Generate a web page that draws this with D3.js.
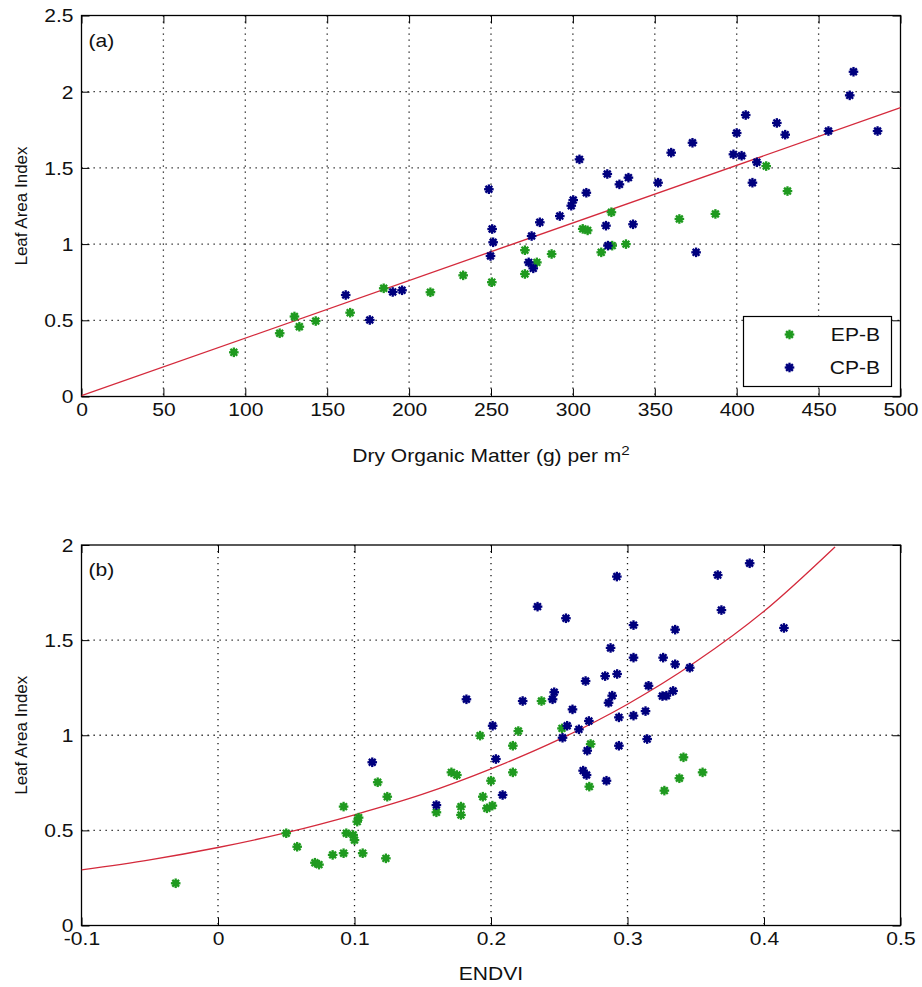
<!DOCTYPE html>
<html>
<head>
<meta charset="utf-8">
<script src="https://cdn.jsdelivr.net/npm/d3@7"></script>
<style>
  html, body { margin: 0; padding: 0; background: #fff; }
  svg { display: block; font-family: "Liberation Sans", Arial, sans-serif; }
</style>
</head>
<body>
<svg id="fig" width="922" height="987"></svg>
<script>
// ---- Panel (a): LAI vs dry organic matter ----
const topEPB = [
  [93,0.29],[121,0.415],[130,0.525],[133,0.458],[143,0.495],[164,0.55],[184.5,0.71],
  [213,0.684],[233,0.795],[250.5,0.75],[270.7,0.96],[270.7,0.804],[278,0.88],[287,0.935],
  [306,1.1],[309,1.09],[323.5,1.209],[317.3,0.946],[324,0.99],[332.4,1.0],[365,1.165],
  [387,1.198],[418,1.512],[431,1.348]
];
const topCPB = [
  [161.3,0.666],[176,0.502],[190,0.686],[195.7,0.697],[248.7,1.36],[250.7,1.099],[251.3,1.012],
  [249.7,0.922],[274.8,1.053],[279.8,1.143],[273,0.88],[275.8,0.841],[292,1.184],[299,1.252],
  [300.2,1.289],[304,1.556],[308.2,1.337],[321,1.46],[320.2,1.121],[321.4,0.99],[328.4,1.392],
  [333.9,1.436],[336.7,1.13],[352,1.403],[360,1.6],[373,1.665],[375.2,0.946],[400,1.729],
  [398,1.589],[403,1.58],[405.5,1.847],[409.6,1.403],[412.3,1.537],[424.5,1.795],[429.6,1.718],
  [456,1.742],[469,1.976],[471.3,2.131],[486,1.742]
];
const topFitX = [0, 500];
const topFitY = [0.005, 1.895];
const topXTicks = [0,50,100,150,200,250,300,350,400,450,500];
const topYTicks = [0,0.5,1,1.5,2,2.5];

// ---- Panel (b): LAI vs ENDVI ----
const botEPB = [
  [-0.031,0.222],[0.05,0.485],[0.058,0.414],[0.071,0.33],[0.074,0.32],[0.084,0.371],[0.092,0.38],
  [0.092,0.625],[0.094,0.485],[0.099,0.476],[0.1,0.449],[0.102,0.546],[0.103,0.567],[0.106,0.38],
  [0.117,0.753],[0.124,0.677],[0.123,0.353],[0.16,0.595],[0.171,0.805],[0.175,0.791],[0.178,0.625],
  [0.178,0.581],[0.192,0.998],[0.194,0.677],[0.197,0.616],[0.201,0.63],[0.2,0.761],[0.216,0.805],
  [0.216,0.945],[0.22,1.022],[0.237,1.18],[0.252,1.036],[0.273,0.954],[0.272,0.73],[0.327,0.709],
  [0.338,0.774],[0.341,0.884],[0.355,0.805]
];
const botCPB = [
  [0.113,0.858],[0.16,0.633],[0.182,1.189],[0.2085,0.686],[0.2036,0.875],[0.2012,1.05],[0.2232,1.18],
  [0.2341,1.676],[0.2451,1.189],[0.2463,1.226],[0.2549,1.615],[0.2524,0.987],[0.2558,1.05],
  [0.2597,1.136],[0.2644,1.031],[0.2693,1.285],[0.2717,1.075],[0.2705,0.919],[0.2675,0.814],
  [0.27,0.791],[0.2846,0.761],[0.2836,1.311],[0.2861,1.171],[0.2888,1.208],[0.2876,1.459],
  [0.2922,1.834],[0.2924,1.322],[0.2937,1.094],[0.2937,0.945],[0.3044,1.579],[0.3044,1.408],
  [0.3044,1.103],[0.3132,1.127],[0.3154,1.26],[0.3144,0.98],[0.3261,1.408],[0.3256,1.206],
  [0.3285,1.208],[0.3334,1.233],[0.3349,1.555],[0.3349,1.373],[0.3456,1.355],[0.3661,1.842],
  [0.3688,1.658],[0.3895,1.904],[0.4146,1.564]
];
const botFitX = [-0.1,-0.05,0,0.05,0.1,0.15,0.2,0.25,0.3,0.35,0.4,0.452];
const botFitY = [0.292,0.345,0.41,0.488,0.582,0.69,0.823,0.978,1.163,1.386,1.652,1.99];
const botXTicks = [-0.1,0,0.1,0.2,0.3,0.4,0.5];
const botYTicks = [0,0.5,1,1.5,2];

const seriesNames = ["EP-B", "CP-B"];
const seriesColors = ["#1f9a1f", "#00007e"];
const fitColor = "#d42a3c";

const FONT = 18;       // base font size
const SX = 1.17;       // horizontal widening of glyphs

const svg = d3.select("#fig");

// MATLAB-style '*' marker: eight short spokes round a small filled core
function star(g, x, y, color) {
  const r = 4.8;
  const grp = g.append("g").attr("transform", `translate(${x},${y})`);
  [0, 45, 90, 135].forEach(a => {
    const t = a * Math.PI / 180;
    grp.append("line")
      .attr("x1", -r * Math.cos(t)).attr("y1", -r * Math.sin(t))
      .attr("x2", r * Math.cos(t)).attr("y2", r * Math.sin(t))
      .attr("stroke", color).attr("stroke-width", 2.3);
  });
  grp.append("circle").attr("r", 3.3).attr("fill", color);
}

function fmt(v) {
  return String(+v.toFixed(2));
}

function panel(cfg) {
  const { left, right, top, bottom } = cfg.box;
  const W = right - left, H = bottom - top;
  const x = d3.scaleLinear().domain(cfg.xDomain).range([left, right]);
  const y = d3.scaleLinear().domain(cfg.yDomain).range([bottom, top]);

  const g = svg.append("g");
  const clipId = "clip-" + cfg.id;
  g.append("clipPath").attr("id", clipId)
    .append("rect").attr("x", left).attr("y", top).attr("width", W).attr("height", H);

  // dotted grid
  const grid = g.append("g").attr("stroke", "#1a1a1a").attr("stroke-width", 1.3)
    .attr("stroke-dasharray", "1.3,4.7");
  cfg.xTicks.slice(1, -1).forEach(v => {
    grid.append("line").attr("x1", x(v)).attr("x2", x(v)).attr("y1", top).attr("y2", bottom);
  });
  cfg.yTicks.slice(1, -1).forEach(v => {
    grid.append("line").attr("y1", y(v)).attr("y2", y(v)).attr("x1", left).attr("x2", right);
  });

  // axes with inward ticks on all four sides
  const tick = 8;
  const ax = (axis, tr) => {
    const a = g.append("g").attr("transform", tr).call(axis);
    a.select(".domain").remove();
    a.selectAll(".tick line").attr("stroke", "#000").attr("stroke-width", 1);
    return a;
  };
  const xb = ax(d3.axisBottom(x).tickValues(cfg.xTicks).tickSizeInner(-tick).tickSizeOuter(0)
    .tickFormat(fmt), `translate(0,${bottom})`);
  xb.selectAll(".tick text").attr("y", 0).attr("dy", null)
    .attr("transform", `translate(0,${cfg.xLabelBase}) scale(${SX},1)`)
    .attr("font-size", FONT).attr("fill", "#111").attr("font-family", "Liberation Sans, Arial, sans-serif");
  ax(d3.axisTop(x).tickValues(cfg.xTicks).tickSizeInner(-tick).tickSizeOuter(0).tickFormat(""),
    `translate(0,${top})`);
  const yl = ax(d3.axisLeft(y).tickValues(cfg.yTicks).tickSizeInner(-tick).tickSizeOuter(0)
    .tickFormat(fmt), `translate(${left},0)`);
  yl.selectAll(".tick text").attr("x", 0).attr("dy", "0.36em")
    .attr("transform", `translate(-8,0) scale(${SX},1)`)
    .attr("font-size", FONT).attr("fill", "#111").attr("font-family", "Liberation Sans, Arial, sans-serif");
  ax(d3.axisRight(y).tickValues(cfg.yTicks).tickSizeInner(-tick).tickSizeOuter(0).tickFormat(""),
    `translate(${right},0)`);

  // frame
  g.append("rect").attr("x", left).attr("y", top).attr("width", W).attr("height", H)
    .attr("fill", "none").attr("stroke", "#000").attr("stroke-width", 1.3);

  // fitted curve
  const fit = cfg.fitX.map((v, i) => [v, cfg.fitY[i]]);
  g.append("path").datum(fit)
    .attr("clip-path", `url(#${clipId})`)
    .attr("d", d3.line().x(d => x(d[0])).y(d => y(d[1])).curve(d3.curveMonotoneX))
    .attr("fill", "none").attr("stroke", fitColor).attr("stroke-width", 1.3);

  // markers
  const pts = g.append("g");
  cfg.series.forEach((s, i) => s.forEach(d => star(pts, x(d[0]), y(d[1]), seriesColors[i])));

  // panel tag
  g.append("text").attr("transform", `translate(${left + 7},${top + 31}) scale(${SX},1)`)
    .attr("font-size", FONT).attr("fill", "#111").text(cfg.tag);

  // axis titles
  const xt = g.append("text")
    .attr("transform", `translate(${(left + right) / 2},${cfg.xTitleBase}) scale(${SX},1)`)
    .attr("text-anchor", "middle").attr("font-size", FONT).attr("fill", "#111");
  cfg.xTitle(xt);
  g.append("text")
    .attr("transform", `translate(${left - 55},${(top + bottom) / 2}) rotate(-90)`)
    .attr("text-anchor", "middle").attr("font-size", 17).attr("fill", "#111")
    .text("Leaf Area Index");

  return { g, x, y };
}

const A = panel({
  id: "a", tag: "(a)",
  box: { left: 81.5, right: 900.5, top: 15.5, bottom: 396.5 },
  xDomain: [0, 500], yDomain: [0, 2.5],
  xTicks: topXTicks, yTicks: topYTicks,
  fitX: topFitX, fitY: topFitY,
  series: [topEPB, topCPB],
  xLabelBase: 19, xTitleBase: 462,
  xTitle: t => {
    t.append("tspan").text("Dry Organic Matter (g) per m");
    t.append("tspan").attr("dy", -7).attr("font-size", 13).text("2");
  }
});

// legend inside panel (a)
{
  const lg = A.g.append("g");
  lg.append("rect").attr("x", 743.5).attr("y", 316.5).attr("width", 148).attr("height", 70)
    .attr("fill", "#fff").attr("stroke", "#000").attr("stroke-width", 1.2);
  seriesNames.forEach((name, i) => {
    const cy = 334.5 + i * 33;
    star(lg, 789.5, cy, seriesColors[i]);
    lg.append("text").attr("transform", `translate(880,${cy + 6.5}) scale(${SX},1)`)
      .attr("text-anchor", "end").attr("font-size", FONT).attr("fill", "#111").text(name);
  });
}

panel({
  id: "b", tag: "(b)",
  box: { left: 81.5, right: 900.5, top: 545, bottom: 925.5 },
  xDomain: [-0.1, 0.5], yDomain: [0, 2],
  xTicks: botXTicks, yTicks: botYTicks,
  fitX: botFitX, fitY: botFitY,
  series: [botEPB, botCPB],
  xLabelBase: 19, xTitleBase: 980,
  xTitle: t => t.text("ENDVI")
});
</script>
</body>
</html>
